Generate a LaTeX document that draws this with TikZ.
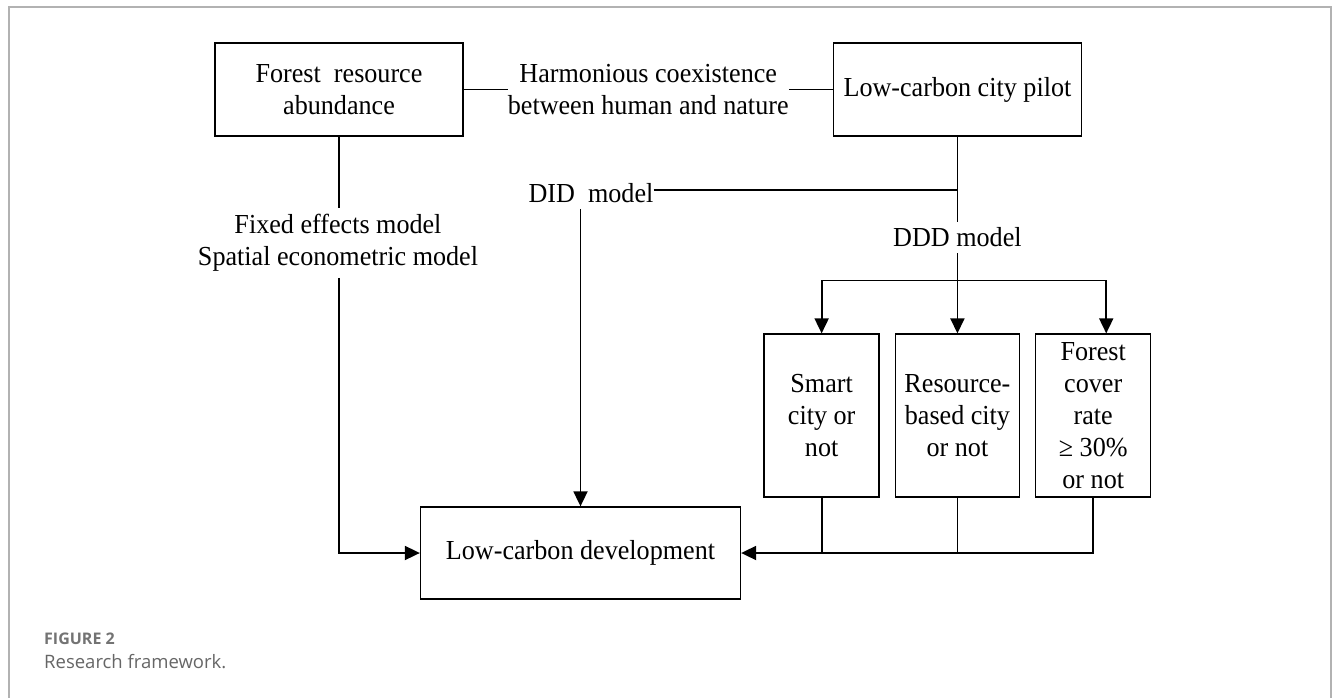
\documentclass[tikz,border=0pt]{standalone}
\usepackage{fontspec}
\setmainfont{Liberation Serif}[FakeStretch=0.95]
\newfontfamily\capfont{Open Sans}
\usetikzlibrary{positioning, arrows.meta}
\tikzset{
	>={Triangle[length=15pt,width=14pt]}, % puntas de flecha rellenas
	every node/.style={font=\fontsize{27.5}{32}\selectfont}, % letra de los textos
	caja/.style={draw, line width=1.3pt, align=center, inner sep=0pt}, % cajas con borde
	texto/.style={align=center, inner xsep=0pt, inner ysep=6pt}, % textos sueltos
	linea/.style={line width=1.8pt} % conectores
}

\begin{document}
\begin{tikzpicture}[x=1pt, y=-1pt]
	\useasboundingbox (0,0) rectangle (1333,698);
	\draw[line width=1.5pt, color=black!30] (9,700) -- (9,7) -- (1331,7) -- (1331,700);

	\node[caja, minimum width=248pt, minimum height=93pt] (frs) at (339,89.5) {Forest\ \ resource\\abundance};
	\node[texto, right=44pt of frs] (arm) {Harmonious coexistence\\between human and nature};
	\node[caja, minimum width=248pt, minimum height=93pt, right=44pt of arm] (pil) {Low-carbon city pilot};
	\node[texto] (did) at (591,193) {DID\ \ model};
	\node[texto] (fem) at (338,243) {Fixed effects model\\Spatial econometric model};
	\node[texto, below=85pt of pil] (ddd) {DDD model};
	\coordinate[below=27pt of ddd] (split);
	\node[caja, minimum width=124pt, minimum height=163pt, below=53pt of split] (s2) {Resource-\\based city\\or not};
	\node[caja, minimum width=115pt, minimum height=163pt, left=15pt of s2] (s1) {Smart\\city or\\not};
	\node[caja, minimum width=115pt, minimum height=163pt, right=15pt of s2] (s3) {Forest\\cover\\rate\\≥ 30\%\\or not};
	\node[caja, minimum width=320pt, minimum height=92pt] (lcd) at (580.5,553) {Low-carbon development};

	\node[anchor=west, inner sep=0pt, text=black!55, font=\capfont\bfseries\fontsize{16}{19}\selectfont] (fig) at (44,639) {FIGURE 2};
	\node[anchor=west, inner sep=0pt, text=black!60, font=\capfont\fontsize{18.5}{22}\selectfont] (cap) at (44,662) {Research framework.};

	\draw[linea] (frs.east) -- (frs.east -| arm.west);
	\draw[linea] (arm.east |- pil.west) -- (pil.west);
	\draw[linea] (pil.south) -- (ddd.north);
	\draw[linea] ([yshift=3pt]did.east) -- ([yshift=3pt]did.east -| pil.south);
	\draw[linea, ->] (did.south -| lcd.north) -- (lcd.north);
	\draw[linea] (frs.south) -- (frs.south |- fem.north);
	\draw[linea, ->] (fem.south -| frs.south) |- (lcd.west);
	\draw[linea] (ddd.south) -- (split);
	\draw[linea, ->] (split) -| (s1.north);
	\draw[linea, ->] (split) -- (s2.north);
	\draw[linea, ->] (split) -| ([xshift=13pt]s3.north);
	\draw[linea] (s1.south) -- (s1.south |- lcd.east);
	\draw[linea] (s2.south) -- (s2.south |- lcd.east);
	\draw[linea, ->] (s3.south) |- (lcd.east);
\end{tikzpicture}
\end{document}
